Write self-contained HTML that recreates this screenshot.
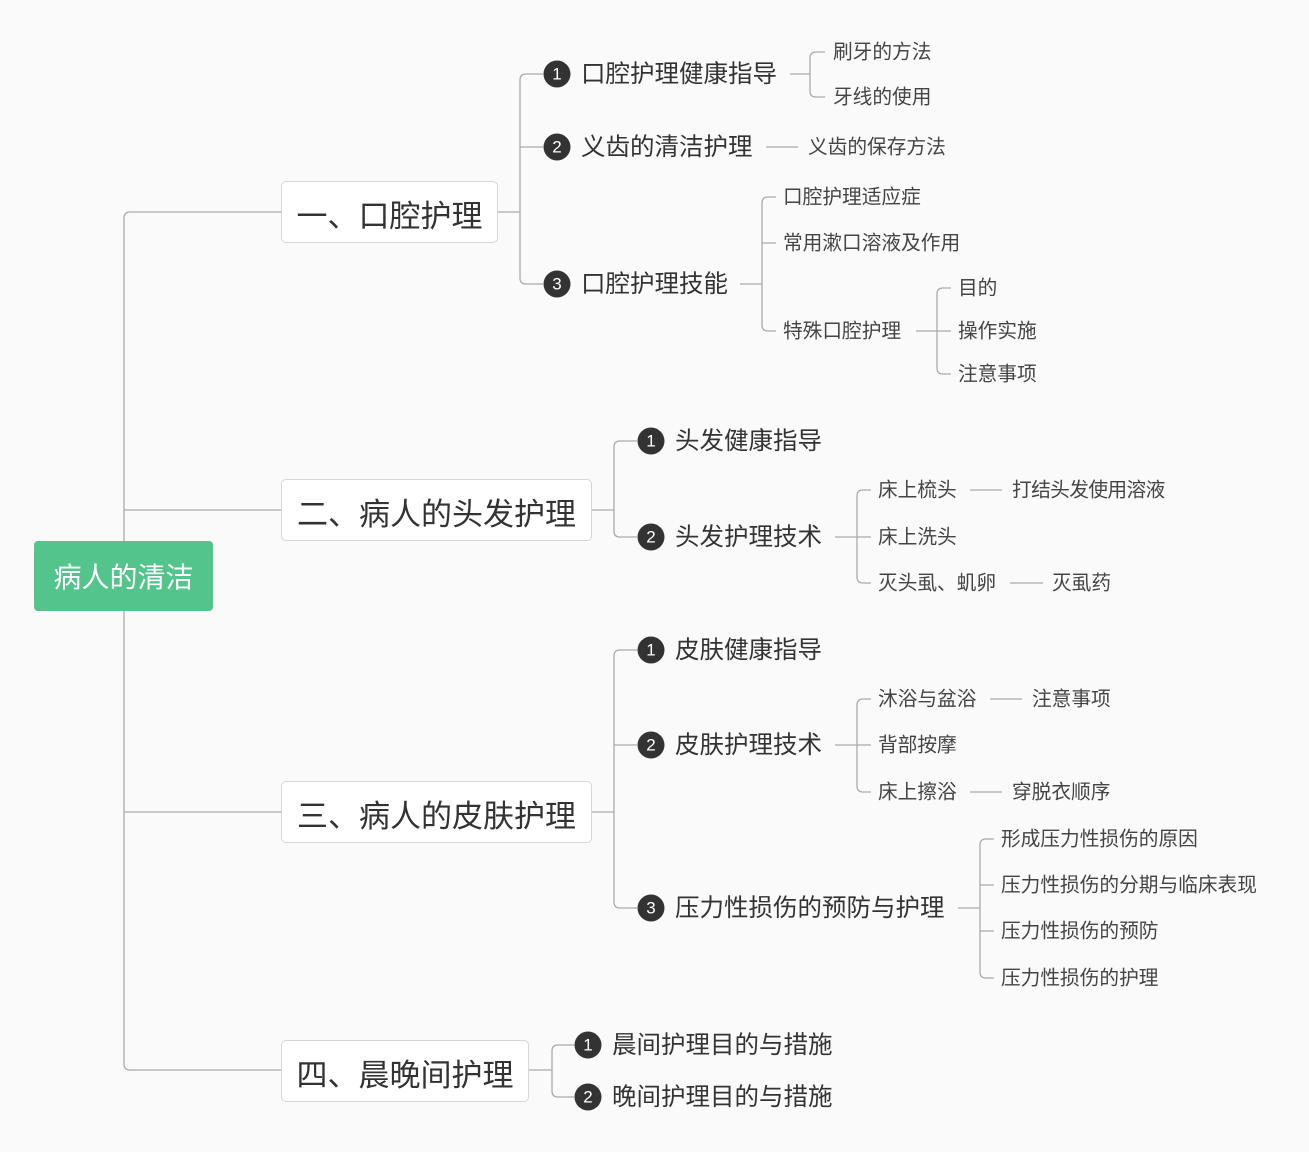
<!DOCTYPE html>
<html><head><meta charset="utf-8">
<style>
body{margin:0;width:1309px;height:1152px;background:#fafafa;position:relative;overflow:hidden;font-family:"Liberation Sans","Noto Sans CJK SC",sans-serif;}
svg{position:absolute;left:0;top:0}
.t{position:absolute;white-space:nowrap;color:#333;line-height:1;transform:translateY(-44%)}
.l2{font-size:24.5px}
.l3{font-size:19.7px;color:#444}
.box{position:absolute;background:#fff;border:1px solid #d6d6d6;border-radius:5px;box-sizing:border-box;font-size:31px;color:#333;display:flex;align-items:center;justify-content:center;white-space:nowrap;padding-top:2px}
.root{position:absolute;left:34px;top:541px;width:179px;height:70px;background:#52c48c;border-radius:4px;color:#fff;font-size:28px;display:flex;align-items:center;justify-content:center}
.c{position:absolute;width:27px;height:27px;border-radius:50%;background:#333;color:#fff;font-size:17px;display:flex;align-items:center;justify-content:center;transform:translate(-50%,-50%)}
</style></head><body>
<svg id="s" width="1309" height="1152"></svg>
<div class="root">病人的清洁</div>
<div class="box" style="left:281px;top:181px;width:217px;height:62px">一、口腔护理</div>
<div class="box" style="left:281px;top:479px;width:311px;height:62px">二、病人的头发护理</div>
<div class="box" style="left:281px;top:781px;width:311px;height:62px">三、病人的皮肤护理</div>
<div class="box" style="left:281px;top:1040px;width:248px;height:62px">四、晨晚间护理</div>

<div class="c" style="left:557px;top:74px">1</div><div class="t l2" style="left:581px;top:74px">口腔护理健康指导</div>
<div class="c" style="left:557px;top:147px">2</div><div class="t l2" style="left:581px;top:147px">义齿的清洁护理</div>
<div class="c" style="left:557px;top:284px">3</div><div class="t l2" style="left:581px;top:284px">口腔护理技能</div>
<div class="t l3" style="left:833px;top:52px">刷牙的方法</div>
<div class="t l3" style="left:833px;top:97px">牙线的使用</div>
<div class="t l3" style="left:808px;top:147px">义齿的保存方法</div>
<div class="t l3" style="left:783px;top:197px">口腔护理适应症</div>
<div class="t l3" style="left:783px;top:243px">常用漱口溶液及作用</div>
<div class="t l3" style="left:783px;top:331px">特殊口腔护理</div>
<div class="t l3" style="left:958px;top:288px">目的</div>
<div class="t l3" style="left:958px;top:331px">操作实施</div>
<div class="t l3" style="left:958px;top:374px">注意事项</div>

<div class="c" style="left:651px;top:441px">1</div><div class="t l2" style="left:675px;top:441px">头发健康指导</div>
<div class="c" style="left:651px;top:537px">2</div><div class="t l2" style="left:675px;top:537px">头发护理技术</div>
<div class="t l3" style="left:878px;top:490px">床上梳头</div>
<div class="t l3" style="left:878px;top:537px">床上洗头</div>
<div class="t l3" style="left:878px;top:583px">灭头虱、虮卵</div>
<div class="t l3" style="left:1012px;top:490px;letter-spacing:-0.6px">打结头发使用溶液</div>
<div class="t l3" style="left:1052px;top:583px">灭虱药</div>

<div class="c" style="left:651px;top:650px">1</div><div class="t l2" style="left:675px;top:650px">皮肤健康指导</div>
<div class="c" style="left:651px;top:745px">2</div><div class="t l2" style="left:675px;top:745px">皮肤护理技术</div>
<div class="c" style="left:651px;top:908px">3</div><div class="t l2" style="left:675px;top:908px">压力性损伤的预防与护理</div>
<div class="t l3" style="left:878px;top:699px">沐浴与盆浴</div>
<div class="t l3" style="left:878px;top:745px">背部按摩</div>
<div class="t l3" style="left:878px;top:792px">床上擦浴</div>
<div class="t l3" style="left:1032px;top:699px">注意事项</div>
<div class="t l3" style="left:1012px;top:792px">穿脱衣顺序</div>
<div class="t l3" style="left:1001px;top:839px">形成压力性损伤的原因</div>
<div class="t l3" style="left:1001px;top:885px">压力性损伤的分期与临床表现</div>
<div class="t l3" style="left:1001px;top:931px">压力性损伤的预防</div>
<div class="t l3" style="left:1001px;top:978px">压力性损伤的护理</div>

<div class="c" style="left:588px;top:1045px">1</div><div class="t l2" style="left:612px;top:1045px">晨间护理目的与措施</div>
<div class="c" style="left:588px;top:1097px">2</div><div class="t l2" style="left:612px;top:1097px">晚间护理目的与措施</div>

<script>
var d="";
function br(px,py,vx,ys,ex){var r=6,a=Math.min.apply(0,ys),b=Math.max.apply(0,ys);
 d+="M"+px+" "+py+"H"+vx;
 if(ys.length==1){d+="H"+ex;return;}
 d+="M"+(ex)+" "+a+"H"+(vx+r)+"Q"+vx+" "+a+" "+vx+" "+(a+r)+"V"+(b-r)+"Q"+vx+" "+b+" "+(vx+r)+" "+b+"H"+ex;
 ys.forEach(function(y){if(y!=a&&y!=b)d+="M"+vx+" "+y+"H"+ex;});}
function ln(x1,x2,y){d+="M"+x1+" "+y+"H"+x2;}
br(124,578,124,[212,510,812,1070],281);
br(498,212,520,[74,147,284],543);
br(790,74,810,[52,97],825);
ln(766,798,147);
br(740,284,762,[197,243,331],776);
br(916,331,937,[288,331,374],951);
br(592,510,614,[441,537],637);
br(835,537,857,[490,537,583],871);
ln(970,1002,490);ln(1010,1043,583);
br(592,812,614,[650,745,908],637);
br(835,745,857,[699,745,792],871);
ln(990,1022,699);ln(970,1002,792);
br(958,908,980,[839,885,931,978],994);
br(529,1070,552,[1045,1097],574);
document.getElementById("s").innerHTML='<path d="'+d+'" fill="none" stroke="#aaa" stroke-width="1.3"/>';
</script>
</body></html>
